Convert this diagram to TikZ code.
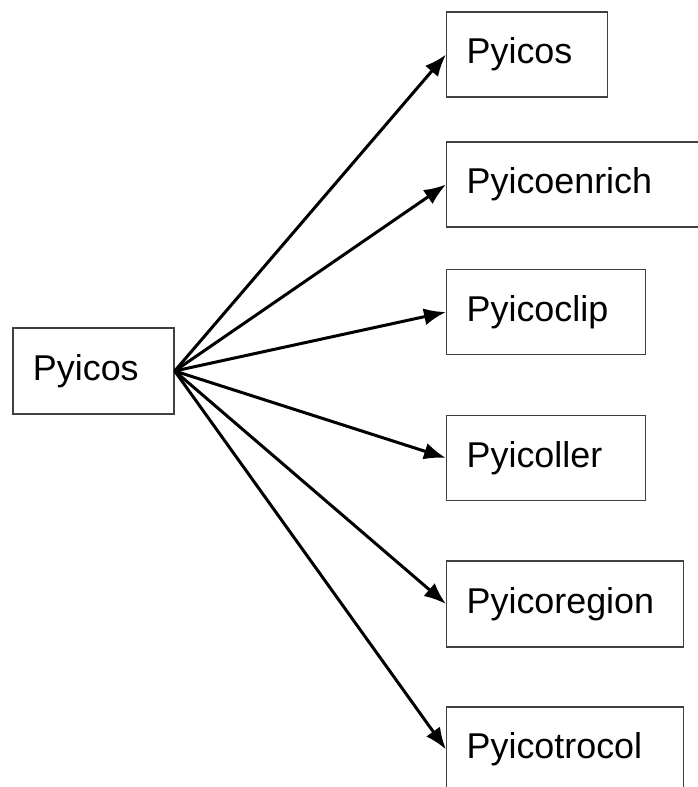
\documentclass[tikz,border=0pt]{standalone}
\usepackage{fontspec}
\setmainfont{Liberation Sans}
\usetikzlibrary{arrows.meta}
\begin{document}
\begin{tikzpicture}[x=1bp,y=-1bp,
  box/.style={draw=black!75, line width=1.4bp, fill=white, rectangle,
    inner xsep=20bp, inner ysep=0bp, minimum height=85bp,
    text height=26bp, text depth=8bp, align=left,
    font=\fontsize{36}{40}\selectfont},
  conn/.style={line width=3bp, draw=black, -{Latex[length=22bp,width=17bp]}}]
\useasboundingbox (0,0) rectangle (698,787);
\clip (0,0) rectangle (698,787);
\fill[white] (0,0) rectangle (698,787);
\node[box, text width=121bp, minimum height=86bp] (src) at (93.5,371) {Pyicos};
\node[box, text width=121bp, anchor=west] (t1) at (446,54.5) {Pyicos};
\node[box, text width=224bp, anchor=west] (t2) at (446,184.5) {Pyicoenrich};
\node[box, text width=159bp, anchor=west] (t3) at (446,312) {Pyicoclip};
\node[box, text width=159bp, anchor=west] (t4) at (446,458) {Pyicoller};
\node[box, text width=197bp, anchor=west, minimum height=86bp] (t5) at (446,604) {Pyicoregion};
\node[box, text width=197bp, anchor=west] (t6) at (446,749.5) {Pyicotrocol};
\foreach \t in {t1,t2,t3,t4,t5,t6}
  \draw[conn] (src.east) -- (\t.west);
\end{tikzpicture}
\end{document}
